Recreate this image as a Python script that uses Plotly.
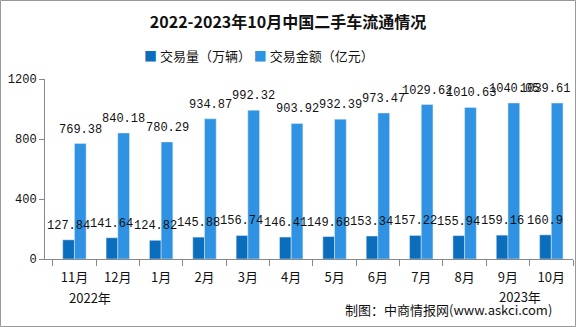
import plotly.graph_objects as go

months = ["11月", "12月", "1月", "2月", "3月", "4月", "5月", "6月", "7月", "8月", "9月", "10月"]
volume = [127.84, 141.64, 124.82, 145.88, 156.74, 146.41, 149.68, 153.34, 157.22, 155.94, 159.16, 160.9]
amount = [769.38, 840.18, 780.29, 934.87, 992.32, 903.92, 932.39, 973.47, 1029.62, 1010.63, 1040.05, 1039.61]
y_ticks = [0, 400, 800, 1200]
series_names = ["交易量（万辆）", "交易金额（亿元）"]
colors = ["#0A6EBD", "#2F92E2"]

num_font = dict(family="Liberation Mono, DejaVu Sans Mono, monospace", size=12, color="#111")
cjk = "Noto Sans CJK SC, sans-serif"

L, R, T, B = 45, 3, 79, 68
W, H = 576, 327
pw, ph = W - L - R, H - T - B
bargap = 0.46
cat_w = pw / len(months)
bar_w = cat_w * (1 - bargap) / 2

def px(x):
    return (x - L) / pw

def py(y):
    return (H - B - y) / ph

fig = go.Figure()
for name, vals, col in zip(series_names, [volume, amount], colors):
    fig.add_trace(go.Bar(name=name, x=months, y=vals, marker_color=col,
                         showlegend=False, hoverinfo="x+y"))

# value labels as annotations so they sit above every bar
for si, vals in enumerate([volume, amount]):
    off = (si - 0.5) * bar_w
    for i, (m, v) in enumerate(zip(months, vals)):
        extra = 0
        if si == 1 and i == len(months) - 1:
            extra = -12  # keep the last label inside the canvas
        fig.add_annotation(x=m, y=v, text=f"{v:g}", showarrow=False, xref="x", yref="y",
                           xanchor="center", yanchor="bottom", xshift=off + extra, yshift=5,
                           font=num_font)

fig.update_layout(
    width=W, height=H, margin=dict(l=L, r=R, t=T, b=B),
    paper_bgcolor="white", plot_bgcolor="white",
    barmode="group", bargap=bargap, bargroupgap=0,
    title=dict(text="<b>2022-2023年10月中国二手车流通情况</b>", x=0.5, xanchor="center",
               y=1 - 22 / H, yanchor="middle",
               font=dict(family=cjk, size=16, color="#111")),
    xaxis=dict(showline=True, linecolor="#888", linewidth=1, ticks="outside",
               tickson="boundaries", ticklen=6, tickcolor="#888", ticklabelstandoff=6,
               tickfont=dict(family=cjk, size=13, color="#111"), showgrid=False),
    yaxis=dict(range=[0, 1200], tickvals=y_ticks, showline=True, linecolor="#888",
               linewidth=1, ticks="outside", ticklen=5, tickcolor="#888",
               tickfont=dict(family="Liberation Mono, monospace", size=12, color="#111"),
               showgrid=False, zeroline=False),
)

legend_text = (f'<span style="color:{colors[0]}">■</span> {series_names[0]} '
               f'<span style="color:{colors[1]}">■</span> {series_names[1]}')
fig.add_annotation(text=legend_text, x=px(259), y=py(55), xref="paper", yref="paper",
                   xanchor="center", yanchor="middle", showarrow=False,
                   font=dict(family=cjk, size=13, color="#111"))

fig.add_annotation(text="2022年", x=px(67), y=py(297), xref="paper", yref="paper",
                   yanchor="middle", showarrow=False, font=dict(family=cjk, size=13, color="#111"))
fig.add_annotation(text="2023年", x=px(543), y=py(296), xref="paper", yref="paper",
                   yanchor="middle", showarrow=False, font=dict(family=cjk, size=13, color="#111"))
fig.add_annotation(text="制图：中商情报网(www.askci.com)", x=px(554), y=py(309),
                   xref="paper", yref="paper", xanchor="right", yanchor="middle", showarrow=False,
                   font=dict(family=cjk, size=13, color="#111"))

fig.add_shape(type="rect", xref="paper", yref="paper",
              x0=px(0.5), x1=px(575.5), y0=py(326.5), y1=py(0.5),
              line=dict(color="#999", width=1), layer="above")

fig.write_html("out.html")
